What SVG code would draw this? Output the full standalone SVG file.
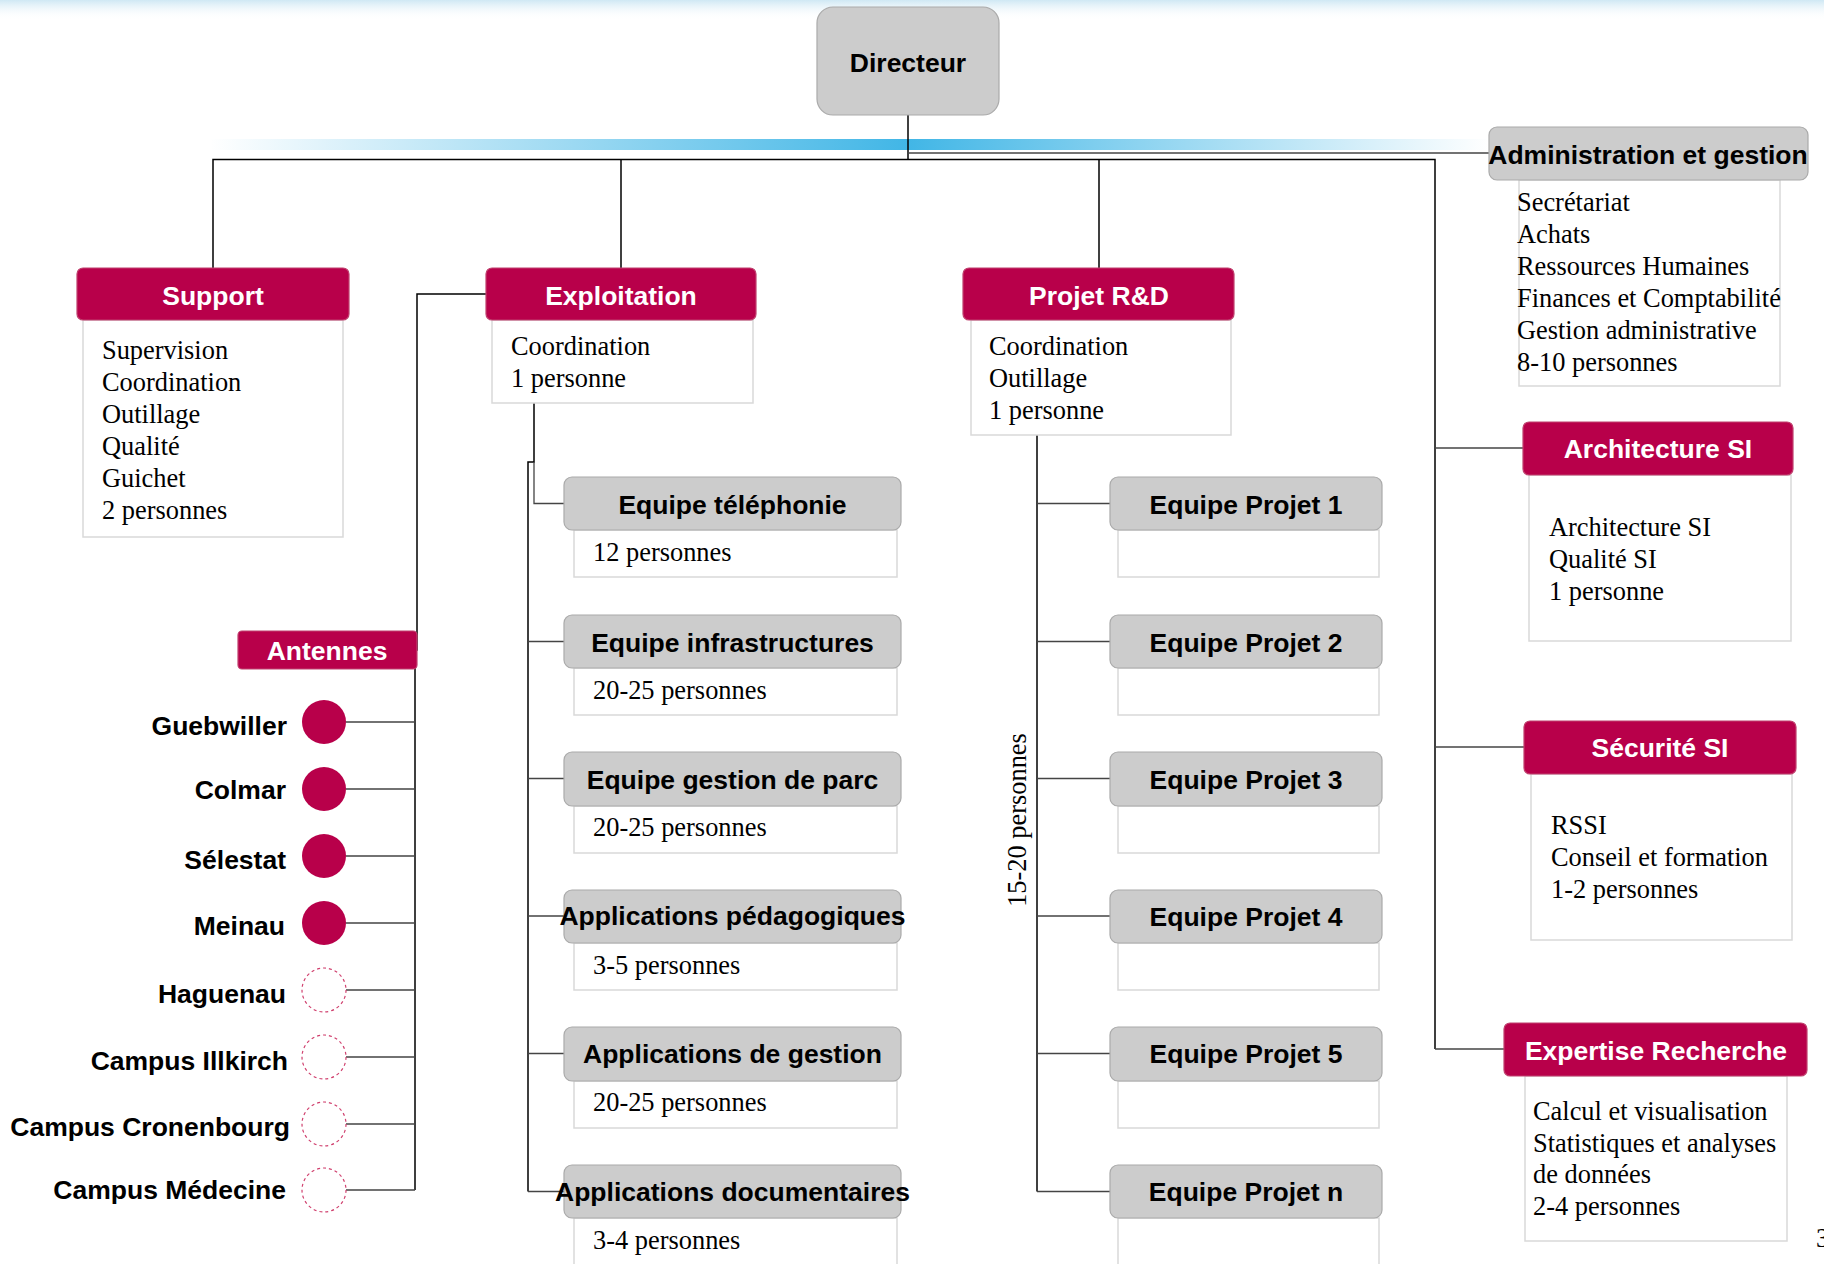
<svg xmlns="http://www.w3.org/2000/svg" width="1824" height="1264" viewBox="0 0 1824 1264">
<defs>
<linearGradient id="haze" x1="0" y1="0" x2="0" y2="1">
<stop offset="0" stop-color="#cfe8f4"/>
<stop offset="1" stop-color="#ffffff" stop-opacity="0"/>
</linearGradient>
<linearGradient id="bar" x1="0" y1="0" x2="1" y2="0">
<stop offset="0" stop-color="#41b6e6" stop-opacity="0"/>
<stop offset="0.545" stop-color="#41b6e6"/>
<stop offset="1" stop-color="#41b6e6" stop-opacity="0"/>
</linearGradient>
<style>
.red{fill:#b8004a;stroke:#c0406e;stroke-width:1.2}
.gray{fill:#cccccc;stroke:#aaaaaa;stroke-width:1.2}
.body{fill:#ffffff;stroke:#d9d9d9;stroke-width:1.5}
.ht{font-family:"Liberation Sans",Arial,sans-serif;font-weight:bold;font-size:26.5px;text-anchor:middle}
.w{fill:#ffffff}
.k{fill:#000000}
.bt{font-family:"Liberation Serif","Times New Roman",serif;font-size:26.4px;fill:#000}
.lab{font-family:"Liberation Sans",Arial,sans-serif;font-weight:bold;font-size:26.5px;text-anchor:end;fill:#000}
.ln{fill:none;stroke:#000;stroke-width:1.5}
.ln2{fill:none;stroke:#444;stroke-width:1.3}
.dot{fill:#b8004a}
.odot{fill:none;stroke:#d0406e;stroke-width:1.2;stroke-dasharray:3 3}
</style>
</defs>
<rect x="0" y="0" width="1824" height="1264" fill="#ffffff"/>
<rect x="0" y="0" width="1824" height="20" fill="url(#haze)"/>
<rect x="210" y="139" width="1280" height="11" fill="url(#bar)"/>

<g id="connectors">
<path class="ln" d="M908,115 V159.5"/>
<path class="ln" d="M213,268 V159.5 H1435 V1049"/>
<path class="ln" d="M621,159.5 V268"/>
<path class="ln" d="M1099,159.5 V268"/>
<path class="ln2" d="M908,153 H1489"/>
<path class="ln2" d="M1435,448 H1523"/>
<path class="ln2" d="M1435,747 H1524"/>
<path class="ln2" d="M1435,1049 H1504"/>
<path class="ln" d="M486,294 H417 V650 H415 V1190"/>
<path class="ln2" d="M346,722 H415 M346,789 H415 M346,856 H415 M346,923 H415 M346,990 H415 M346,1057 H415 M346,1124 H415 M346,1190 H415"/>
<path class="ln" d="M534,403 V462 H528 V1191.5"/>
<path class="ln2" d="M534,462 V503.5 H564"/>
<path class="ln2" d="M528,641.5 H564 M528,778.5 H564 M528,916 H564 M528,1053.5 H564 M528,1191.5 H564"/>
<path class="ln" d="M1037,435 V1191.5"/>
<path class="ln2" d="M1037,503.5 H1110 M1037,641.5 H1110 M1037,778.5 H1110 M1037,916 H1110 M1037,1053.5 H1110 M1037,1191.5 H1110"/>
</g>

<g id="directeur">
<rect class="gray" x="817" y="7" width="182" height="108" rx="16"/>
<text class="ht k" x="908" y="72">Directeur</text>
</g>

<g id="support">
<rect class="body" x="83" y="320" width="260" height="217"/>
<rect class="red" x="77" y="268" width="272" height="52" rx="6"/>
<text class="ht w" x="213" y="305">Support</text>
<text class="bt" x="102" y="359">Supervision</text>
<text class="bt" x="102" y="391">Coordination</text>
<text class="bt" x="102" y="423">Outillage</text>
<text class="bt" x="102" y="455">Qualité</text>
<text class="bt" x="102" y="487">Guichet</text>
<text class="bt" x="102" y="519">2 personnes</text>
</g>

<g id="exploitation">
<rect class="body" x="492" y="320" width="261" height="83"/>
<rect class="red" x="486" y="268" width="270" height="52" rx="6"/>
<text class="ht w" x="621" y="305">Exploitation</text>
<text class="bt" x="511" y="355">Coordination</text>
<text class="bt" x="511" y="387">1 personne</text>
</g>

<g id="projet-rd">
<rect class="body" x="971" y="320" width="260" height="115"/>
<rect class="red" x="963" y="268" width="271" height="52" rx="6"/>
<text class="ht w" x="1099" y="305">Projet R&amp;D</text>
<text class="bt" x="989" y="355">Coordination</text>
<text class="bt" x="989" y="387">Outillage</text>
<text class="bt" x="989" y="419">1 personne</text>
</g>

<g id="administration">
<rect class="body" x="1519" y="180" width="261" height="206"/>
<rect class="gray" x="1489" y="127" width="319" height="53" rx="8"/>
<text class="ht k" x="1648" y="164">Administration et gestion</text>
<text class="bt" x="1517" y="211">Secrétariat</text>
<text class="bt" x="1517" y="243">Achats</text>
<text class="bt" x="1517" y="275">Ressources Humaines</text>
<text class="bt" x="1517" y="307">Finances et Comptabilité</text>
<text class="bt" x="1517" y="339">Gestion administrative</text>
<text class="bt" x="1517" y="371">8-10 personnes</text>
</g>

<g id="architecture">
<rect class="body" x="1529" y="475" width="262" height="166"/>
<rect class="red" x="1523" y="422" width="270" height="53" rx="6"/>
<text class="ht w" x="1658" y="458">Architecture SI</text>
<text class="bt" x="1549" y="536">Architecture SI</text>
<text class="bt" x="1549" y="568">Qualité SI</text>
<text class="bt" x="1549" y="600">1 personne</text>
</g>

<g id="securite">
<rect class="body" x="1531" y="774" width="261" height="166"/>
<rect class="red" x="1524" y="721" width="272" height="53" rx="6"/>
<text class="ht w" x="1660" y="757">Sécurité SI</text>
<text class="bt" x="1551" y="834">RSSI</text>
<text class="bt" x="1551" y="866">Conseil et formation</text>
<text class="bt" x="1551" y="898">1-2 personnes</text>
</g>

<g id="expertise">
<rect class="body" x="1525" y="1076" width="262" height="165"/>
<rect class="red" x="1504" y="1023" width="303" height="53" rx="6"/>
<text class="ht w" x="1656" y="1060">Expertise Recherche</text>
<text class="bt" x="1533" y="1120">Calcul et visualisation</text>
<text class="bt" x="1533" y="1152">Statistiques et analyses</text>
<text class="bt" x="1533" y="1183">de données</text>
<text class="bt" x="1533" y="1215">2-4 personnes</text>
</g>

<g id="antennes">
<rect class="red" x="238" y="631" width="179" height="38" rx="4"/>
<text class="ht w" x="327" y="660">Antennes</text>
</g>
<g id="guebwiller"><circle class="dot" cx="324" cy="722" r="22"/><text class="lab" x="287" y="735">Guebwiller</text></g>
<g id="colmar"><circle class="dot" cx="324" cy="789" r="22"/><text class="lab" x="286" y="799">Colmar</text></g>
<g id="selestat"><circle class="dot" cx="324" cy="856" r="22"/><text class="lab" x="286" y="869">Sélestat</text></g>
<g id="meinau"><circle class="dot" cx="324" cy="923" r="22"/><text class="lab" x="285" y="935">Meinau</text></g>
<g id="haguenau"><circle class="odot" cx="324" cy="990" r="22"/><text class="lab" x="286" y="1003">Haguenau</text></g>
<g id="illkirch"><circle class="odot" cx="324" cy="1057" r="22"/><text class="lab" x="288" y="1070">Campus Illkirch</text></g>
<g id="cronenbourg"><circle class="odot" cx="324" cy="1124" r="22"/><text class="lab" x="290" y="1136">Campus Cronenbourg</text></g>
<g id="medecine"><circle class="odot" cx="324" cy="1190" r="22"/><text class="lab" x="286" y="1199">Campus Médecine</text></g>

<g id="eq-telephonie">
<rect class="body" x="574" y="530" width="323" height="47"/>
<rect class="gray" x="564" y="477" width="337" height="53" rx="8"/>
<text class="ht k" x="732.5" y="514">Equipe téléphonie</text>
<text class="bt" x="593" y="561">12 personnes</text>
</g>
<g id="eq-infra">
<rect class="body" x="574" y="668" width="323" height="47"/>
<rect class="gray" x="564" y="615" width="337" height="53" rx="8"/>
<text class="ht k" x="732.5" y="652">Equipe infrastructures</text>
<text class="bt" x="593" y="699">20-25 personnes</text>
</g>
<g id="eq-parc">
<rect class="body" x="574" y="806" width="323" height="47"/>
<rect class="gray" x="564" y="752" width="337" height="54" rx="8"/>
<text class="ht k" x="732.5" y="789">Equipe gestion de parc</text>
<text class="bt" x="593" y="836">20-25 personnes</text>
</g>
<g id="app-peda">
<rect class="body" x="574" y="943" width="323" height="47"/>
<rect class="gray" x="564" y="890" width="337" height="53" rx="8"/>
<text class="ht k" x="732.5" y="925">Applications pédagogiques</text>
<text class="bt" x="593" y="974">3-5 personnes</text>
</g>
<g id="app-gestion">
<rect class="body" x="574" y="1081" width="323" height="47"/>
<rect class="gray" x="564" y="1027" width="337" height="54" rx="8"/>
<text class="ht k" x="732.5" y="1063">Applications de gestion</text>
<text class="bt" x="593" y="1111">20-25 personnes</text>
</g>
<g id="app-doc">
<rect class="body" x="574" y="1218" width="323" height="50"/>
<rect class="gray" x="564" y="1165" width="337" height="53" rx="8"/>
<text class="ht k" x="732.5" y="1201">Applications documentaires</text>
<text class="bt" x="593" y="1249">3-4 personnes</text>
</g>

<g id="projet1">
<rect class="body" x="1118" y="530" width="261" height="47"/>
<rect class="gray" x="1110" y="477" width="272" height="53" rx="8"/>
<text class="ht k" x="1246" y="514">Equipe Projet 1</text>
</g>
<g id="projet2">
<rect class="body" x="1118" y="668" width="261" height="47"/>
<rect class="gray" x="1110" y="615" width="272" height="53" rx="8"/>
<text class="ht k" x="1246" y="652">Equipe Projet 2</text>
</g>
<g id="projet3">
<rect class="body" x="1118" y="806" width="261" height="47"/>
<rect class="gray" x="1110" y="752" width="272" height="54" rx="8"/>
<text class="ht k" x="1246" y="789">Equipe Projet 3</text>
</g>
<g id="projet4">
<rect class="body" x="1118" y="943" width="261" height="47"/>
<rect class="gray" x="1110" y="890" width="272" height="53" rx="8"/>
<text class="ht k" x="1246" y="926">Equipe Projet 4</text>
</g>
<g id="projet5">
<rect class="body" x="1118" y="1081" width="261" height="47"/>
<rect class="gray" x="1110" y="1027" width="272" height="54" rx="8"/>
<text class="ht k" x="1246" y="1063">Equipe Projet 5</text>
</g>
<g id="projetn">
<rect class="body" x="1118" y="1218" width="261" height="50"/>
<rect class="gray" x="1110" y="1165" width="272" height="53" rx="8"/>
<text class="ht k" x="1246" y="1201">Equipe Projet n</text>
</g>

<text class="bt" x="0" y="0" text-anchor="middle" transform="translate(1026,820) rotate(-90)">15-20 personnes</text>
<text class="bt" x="1816" y="1247" font-size="22">3</text>
</svg>
